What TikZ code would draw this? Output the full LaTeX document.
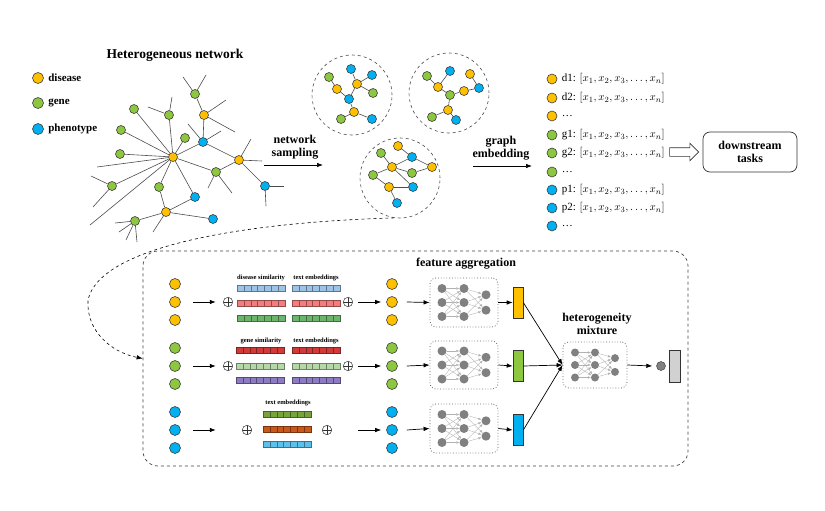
\documentclass[tikz,border=0pt]{standalone}
\usepackage{fontspec}
\setmainfont{Liberation Serif}
\usetikzlibrary{arrows.meta,positioning,shapes.arrows}

\definecolor{cDis}{HTML}{FFC000}
\definecolor{cGen}{HTML}{8DC63F}
\definecolor{cPhe}{HTML}{00B0F0}
\definecolor{bBlue}{HTML}{9DC3E6}
\definecolor{bSalm}{HTML}{F47C7C}
\definecolor{bGreen}{HTML}{6DB56D}
\definecolor{bRed}{HTML}{D23A3A}
\definecolor{bLGreen}{HTML}{B6D7A8}
\definecolor{bPurp}{HTML}{8E7CC3}
\definecolor{bOlive}{HTML}{76A33A}
\definecolor{bOrange}{HTML}{C9581A}
\definecolor{bCyan}{HTML}{5BC0EB}

\tikzset{
  vtx/.style={circle,draw=black!75,line width=.6pt,inner sep=0pt,minimum size=9pt},
  dis/.style={vtx,fill=cDis},
  gen/.style={vtx,fill=cGen},
  phe/.style={vtx,fill=cPhe},
  link/.style={draw=black!70,line width=.6pt},
  samp/.style={circle,draw=black!70,dashed,line width=.6pt,minimum size=80pt},
  lbl/.style={font=\fontsize{12}{13.5}\selectfont\bfseries,align=center},
  tinylbl/.style={font=\fontsize{6.5}{7}\selectfont\bfseries,inner sep=1pt},
  arr/.style={->,line width=.7pt},
  oplus/.style={circle,draw=black!80,line width=.5pt,inner sep=0pt,minimum size=9.5pt,
    path picture={\draw[black!80,line width=.5pt]
      (path picture bounding box.north) -- (path picture bounding box.south)
      (path picture bounding box.west) -- (path picture bounding box.east);}},
  neuron/.style={circle,fill=black!50,inner sep=0pt,minimum size=9pt},
  nnlink/.style={draw=black!30,line width=.35pt,-{Latex[length=3pt,width=2.5pt]}},
  nnbox/.style={draw=black!60,dotted,rounded corners=6pt,line width=.8pt},
  cellbar/.style={line width=.4pt},
}

\begin{document}
\begin{tikzpicture}[x=1pt,y=-1pt,>={Latex[length=6pt,width=4.5pt]}]
  \useasboundingbox (0,0) rectangle (825,511);

  % legend
  \node (title) [lbl,font=\fontsize{13.5}{15}\selectfont\bfseries] at (175,55) {Heterogeneous network};
  \node (lgD) [dis,minimum size=11pt] at (38,78) {};
  \node (lgG) [gen,minimum size=11pt] at (38,103) {};
  \node (lgP) [phe,minimum size=11pt] at (38,129) {};
  \foreach \n/\t in {lgD/disease,lgG/gene,lgP/phenotype}
    \node [right=1pt of \n,font=\fontsize{11}{12}\selectfont\bfseries] {\t};

  % heterogeneous network
  \node (dA) [dis] at (173,157) {};
  \node (dB) [dis] at (204,115) {};
  \node (dC) [dis] at (239,160) {};
  \node (dD) [dis] at (166,212) {};
  \node (gA) [gen] at (195,94) {};
  \node (gB) [gen] at (134,109) {};
  \node (gC) [gen] at (169,115) {};
  \node (gD) [gen] at (121,130) {};
  \node (gE) [gen] at (185,138) {};
  \node (gF) [gen] at (120,154) {};
  \node (gG) [gen] at (112,186) {};
  \node (gH) [gen] at (159,187) {};
  \node (gI) [gen] at (216,172) {};
  \node (gJ) [gen] at (135,221) {};
  \node (pA) [phe] at (203,142) {};
  \node (pB) [phe] at (265,186) {};
  \node (pC) [phe] at (195,197) {};
  \node (pD) [phe] at (213,219) {};
  \foreach \a/\b in {dA/gB,dA/gC,dA/gD,dA/gE,dA/gF,dA/gG,dA/pA,dA/gI,dA/gH,dA/pC,
                     gA/dB,dB/pA,pA/dC,dC/gI,dC/pB,gH/dD,dD/pC,dD/pD,dD/gJ}
    \draw[link] (\a) -- (\b);
  \foreach \n/\dx/\dy in {dA/-76/10,dA/-83/68,gG/-21/-10,gG/-19/21,gC/3/-18,gC/-21/-8,
                          gA/-12/-17,gA/11/-19,dB/22/-15,dB/31/17,pA/-15/-18,pA/18/-11,
                          dC/12/-21,dC/23/1,pB/19/0,pB/1/20,gI/-8/16,gI/16/21,dD/-13/20,
                          gJ/-20/2,gJ/-16/11,gJ/-9/19,gJ/2/21}
    \draw[link] (\n) -- ++(\dx,\dy);

  % network sampling
  \node (nslbl) [lbl] at (295,147) {network\\sampling};
  \coordinate (ns-s) at (264,165);
  \coordinate (ns-e) at (323,165);
  \draw[arr] (ns-s) -- (ns-e);

  \node (c1) [samp] at (352,95) {};
  \node (c2) [samp] at (449,93) {};
  \node (c3) [samp] at (400,178) {};

  \node (a1) [gen] at (329,77) {};  \node (b1) [phe] at (351,69) {};
  \node (c1n) [phe] at (372,75) {}; \node (d1) [dis] at (337,89) {};
  \node (e1) [dis] at (357,84) {};  \node (f1) [gen] at (373,93) {};
  \node (g1) [phe] at (349,99) {};  \node (h1) [dis] at (354,112) {};
  \node (i1) [gen] at (341,119) {}; \node (j1) [phe] at (372,119) {};
  \foreach \a/\b in {a1/d1,d1/g1,b1/e1,c1n/e1,e1/f1,e1/g1,g1/h1,h1/i1,h1/j1}
    \draw[link] (\a) -- (\b);

  \node (a2) [gen] at (427,76) {};  \node (b2) [phe] at (450,71) {};
  \node (c2n) [dis] at (470,74) {}; \node (d2) [dis] at (438,87) {};
  \node (e2) [dis] at (464,91) {};  \node (f2) [phe] at (479,88) {};
  \node (g2) [gen] at (450,95) {};  \node (h2) [dis] at (448,110) {};
  \node (i2) [gen] at (432,117) {}; \node (j2) [phe] at (456,120) {};
  \foreach \a/\b in {a2/d2,b2/d2,d2/g2,g2/e2,c2n/f2,e2/f2,g2/h2,h2/i2,h2/j2}
    \draw[link] (\a) -- (\b);

  \node (a3) [gen] at (381,153) {}; \node (b3) [dis] at (398,146) {};
  \node (c3n) [phe] at (412,157) {}; \node (d3) [dis] at (392,167) {};
  \node (e3) [gen] at (373,175) {}; \node (f3) [gen] at (412,173) {};
  \node (g3) [dis] at (432,167) {}; \node (h3) [dis] at (389,187) {};
  \node (i3) [phe] at (413,187) {}; \node (j3) [phe] at (397,203) {};
  \foreach \a/\b in {a3/d3,b3/c3n,c3n/d3,c3n/g3,d3/f3,f3/g3,d3/e3,d3/i3,e3/h3,h3/i3,h3/j3}
    \draw[link] (\a) -- (\b);

  % graph embedding
  \node (gelbl) [lbl] at (501,148) {graph\\embedding};
  \coordinate (ge-s) at (473,166);
  \coordinate (ge-e) at (532,166);
  \draw[arr] (ge-s) -- (ge-e);

  \foreach \k/\y/\s/\t in {1/79/dis/d1,2/98/dis/d2,4/135/gen/g1,5/153/gen/g2,7/190/phe/p1,8/208/phe/p2}
    \node (em\k) [\s,minimum size=10pt] at (552,\y) {}
      node [right=1pt of em\k,font=\fontsize{11}{12}\selectfont] {\t: $[x_1,x_2,x_3,\ldots,x_n]$};
  \foreach \k/\y/\s in {3/116/dis,6/172/gen,9/226/phe}
    \node (em\k) [\s,minimum size=10pt] at (552,\y) {}
      node [right=1pt of em\k,font=\fontsize{11}{12}\selectfont] {\ldots};

  \node (harrow) [single arrow,draw=black!80,line width=.6pt,minimum height=29pt,
        inner sep=4pt,single arrow head extend=4.5pt] at (682,152) {};
  \node (down) [draw=black!80,line width=.7pt,rounded corners=7pt,minimum width=94pt,
        minimum height=40pt,lbl] at (750,152) {downstream\\tasks};

  % feature aggregation
  \node (agg) [draw=black!75,dashed,line width=.7pt,rounded corners=15pt,
        minimum width=545pt,minimum height=215pt] at (415.5,358.5) {};
  \draw[dashed,line width=.6pt,->] (c3.262) .. controls (250,222) and (100,245) .. (88,300)
        .. controls (86,330) and (110,352) .. (agg.west);
  \node (falbl) [lbl] at (466,264) {feature aggregation};

  \foreach \r/\y/\c/\pl/\pr in {1/302/cDis/228/348,2/366/cGen/228/348,3/430/cPhe/247/327} {
    \foreach \i/\dy in {1/-18,2/0,3/18} {
      \node (in\r-\i) [vtx,minimum size=11pt,fill=\c] at (175,\y+\dy) {};
      \node (out\r-\i) [vtx,minimum size=11pt,fill=\c] at (392,\y+\dy) {};
    }
    \node (plL\r) [oplus] at (\pl,\y) {};
    \node (plR\r) [oplus] at (\pr,\y) {};
    \draw[arr] ([xshift=12pt]in\r-2.east) -- ++(23,0);
    \draw[arr] ([xshift=-28pt]out\r-2.west) -- ([xshift=-5pt]out\r-2.west);
  }

  % embedding bars
  \foreach \x/\y/\c in {237/285/bBlue,292/285/bBlue,237/300/bSalm,292/300/bSalm,
                        237/315/bGreen,292/315/bGreen,236/347/bRed,292/347/bRed,
                        236/363/bLGreen,292/363/bLGreen,236/377/bPurp,292/377/bPurp,
                        263/411/bOlive,263/426/bOrange,263/441/bCyan} {
    \draw[cellbar,draw=\c!60!black,fill=\c] (\x,\y) rectangle ++(48,6);
    \foreach \k in {1,...,6}
      \draw[cellbar,draw=\c!60!black] (\x+\k*48/7,\y) -- ++(0,6);
  }
  \node (dsim) [tinylbl] at (261,278) {disease similarity};
  \node (dtxt) [tinylbl] at (316,278) {text embeddings};
  \node (gsim) [tinylbl] at (261,341) {gene similarity};
  \node (gtxt) [tinylbl] at (316,341) {text embeddings};
  \node (ptxt) [tinylbl] at (288,403) {text embeddings};

  % neural blocks
  \foreach \n/\cx/\cy/\dx/\dy/\w/\h/\s in {nn1/464/302.5/22/14/68/49/9,nn2/464/365/22/14/68/48/9,
                                           nn3/464/428.5/22/14/68/49/9,mix/595/365/20/12.5/64/46/8} {
    \node (\n) [nnbox,minimum width=\w,minimum height=\h] at (\cx,\cy) {};
    \foreach \i/\o in {1/-1,2/0,3/1} {
      \node (\n-a\i) [neuron,minimum size=\s] at (\cx-\dx,\cy+\o*\dy) {};
      \node (\n-b\i) [neuron,minimum size=\s] at (\cx,\cy+\o*\dy) {};
    }
    \foreach \i/\o in {1/-0.55,2/0.55}
      \node (\n-c\i) [neuron,minimum size=\s] at (\cx+\dx,\cy+\o*\dy) {};
    \foreach \i in {1,2,3} {
      \foreach \j in {1,2,3} \draw[nnlink] (\n-a\i) -- (\n-b\j);
      \foreach \j in {1,2} \draw[nnlink] (\n-b\i) -- (\n-c\j);
    }
  }

  \foreach \r/\y/\c in {1/302.5/cDis,2/366/cGen,3/430/cPhe} {
    \node (bar\r) [draw=black!80,line width=.6pt,fill=\c,inner sep=0pt,
          minimum width=10pt,minimum height=31pt] at (518,\y) {};
    \draw[arr] ([xshift=9pt]out\r-2.east) -- (nn\r.west);
    \draw[arr] (nn\r.east) -- (bar\r.west);
    \draw[arr] (bar\r.east) -- (mix.west);
  }

  \node (mixlbl) [lbl] at (597,324) {heterogeneity\\mixture};
  \node (odot) [circle,draw=black!80,fill=black!50,inner sep=0pt,minimum size=9pt] at (661,366) {};
  \node (obar) [draw=black!80,line width=.6pt,fill=black!18,inner sep=0pt,
        minimum width=11pt,minimum height=32pt] at (674.5,366) {};
  \draw[arr] (mix.east) -- ([xshift=-4pt]odot.west);
\end{tikzpicture}
\end{document}
